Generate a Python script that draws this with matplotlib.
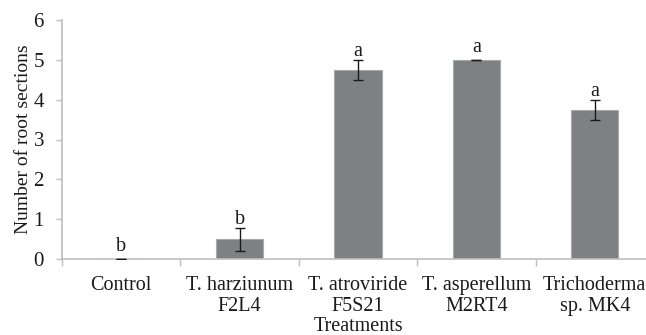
import matplotlib
matplotlib.use("Agg")
import matplotlib.pyplot as plt
import numpy as np

categories = ["Control", "T. harziunum\nF2L4", "T. atroviride\nF5S21", "T. asperellum\nM2RT4", "Trichoderma\nsp. MK4"]
values = [0.0, 0.5, 4.75, 5.0, 3.75]
errors = [0.0, 0.29, 0.25, 0.0, 0.25]
letters = ["b", "b", "a", "a", "a"]

plt.rcParams['font.family'] = ['Liberation Serif', 'DejaVu Serif']

fig = plt.figure(figsize=(6.46, 3.35), dpi=100)
ax = fig.add_axes([62/646, 1-259/335, (654-62)/646, (259-20)/335])

x = np.arange(len(categories))
ax.bar(x, values, width=0.4, color='#7f8083', edgecolor='#a8a9ab', linewidth=0.8, zorder=2)
ax.errorbar(x, values, yerr=errors, fmt='none', ecolor='#1a1a1a', elinewidth=1.0,
            capsize=3.5, capthick=1.0, zorder=3)

for xi, v, e, lab in zip(x, values, errors, letters):
    off = 6 if e == 0 else 2.5
    ax.annotate(lab, (xi, v + e), xytext=(0, off), textcoords='offset points',
                ha='center', va='baseline', fontsize=14.5, color='#1a1a1a')

ax.set_xlim(-0.5, len(categories) - 0.5)
ax.set_ylim(0, 6)
ax.set_yticks(range(0, 7))
ax.tick_params(axis='y', labelsize=15, length=4, color='#bfbfbf', width=1, pad=9, labelcolor='#1a1a1a')
ax.set_xticks(x)
ax.set_xticklabels(categories, fontsize=14.5, color='#1a1a1a', linespacing=1.2)
ax.tick_params(axis='x', which='major', length=0, pad=12)
ax.set_xticks(np.arange(-0.5, len(categories)), minor=True)
ax.tick_params(axis='x', which='minor', length=5, color='#bfbfbf', width=1)

for s in ['top', 'right']:
    ax.spines[s].set_visible(False)
for s in ['left', 'bottom']:
    ax.spines[s].set_color('#bfbfbf')
    ax.spines[s].set_linewidth(1.2)

ax.set_ylabel("Number of root sections", fontsize=14, color='#1a1a1a', labelpad=1)
ax.set_xlabel("Treatments", fontsize=14.5, color='#1a1a1a', labelpad=0.5)

fig.savefig("out.png", dpi=100)
